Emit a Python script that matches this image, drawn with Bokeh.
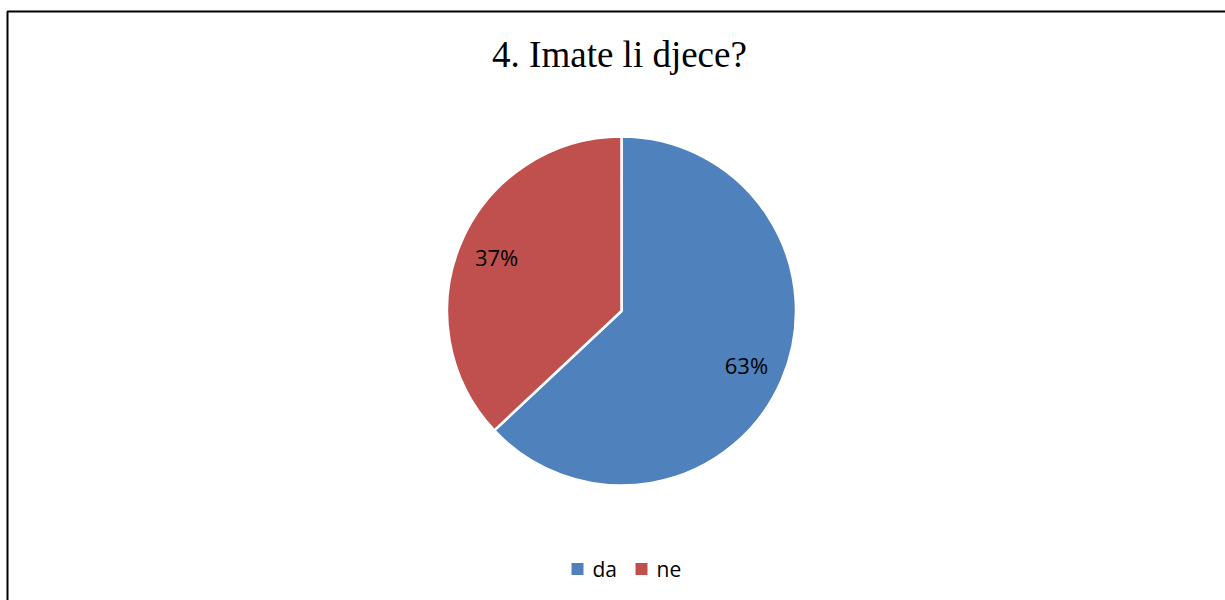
import math
from bokeh.plotting import figure
from bokeh.models import Range1d, Label, ColumnDataSource
from bokeh.core.properties import value
from bokeh.embed import file_html
from bokeh.resources import INLINE

title_text = "4. Imate li djece?"
categories = ["da", "ne"]
shares = [63, 37]
colors = ["#4F81BD", "#C0504D"]

W, H = 1225, 600
cx, cy = 621, 289.5
R = 174.5

total = sum(shares)
starts, ends, lx, ly, labels = [], [], [], [], []
angle = math.pi / 2
for s in shares:
    a = 2 * math.pi * s / total
    end = angle
    start = angle - a
    starts.append(start)
    ends.append(end)
    mid = (start + end) / 2
    lx.append(cx + 0.78 * R * math.cos(mid))
    ly.append(cy + 0.78 * R * math.sin(mid))
    labels.append(f"{round(100 * s / total)}%")
    angle = start

# legend layout (screen positions of the legend entries)
leg_sq_x = [577, 641]
leg_tx_x = [592, 656]
leg_y = 31.5

src = ColumnDataSource(dict(cat=categories, start=starts, end=ends, color=colors,
                            lx=lx, ly=ly, label=labels,
                            sqx=leg_sq_x, txx=leg_tx_x, legy=[leg_y] * len(categories)))

p = figure(width=W, height=H, x_range=Range1d(0, W), y_range=Range1d(0, H),
           output_backend="svg", toolbar_location=None, min_border=0,
           x_axis_type=None, y_axis_type=None)
p.grid.visible = False
p.outline_line_color = None
p.background_fill_color = "white"
p.border_fill_color = "white"

p.wedge(x=cx, y=cy, radius=R, radius_units="screen", start_angle="start", end_angle="end",
        fill_color="color", line_color="white", line_width=2.5, source=src)

p.text(x="lx", y="ly", text="label", source=src, text_align="center", text_baseline="middle",
       text_font=value("Open Sans"), text_font_size="22px", text_color="black")

p.add_layout(Label(x=619, y=546, text=title_text, text_align="center", text_baseline="middle",
                   text_font="Liberation Serif", text_font_size="37px", text_color="black"))

# chart frame (left and top edges visible in the window)
p.line(x=[7, 7, W + 5], y=[-5, 589, 589], line_color="black", line_width=2)

# legend
p.rect(x="sqx", y="legy", width=12, height=12, width_units="screen", height_units="screen",
       fill_color="color", line_color=None, source=src)
p.text(x="txx", y="legy", text="cat", source=src, text_align="left", text_baseline="middle",
       text_font=value("Open Sans"), text_font_size="21px", text_color="black")

open("out.html", "w").write(file_html(p, INLINE))
